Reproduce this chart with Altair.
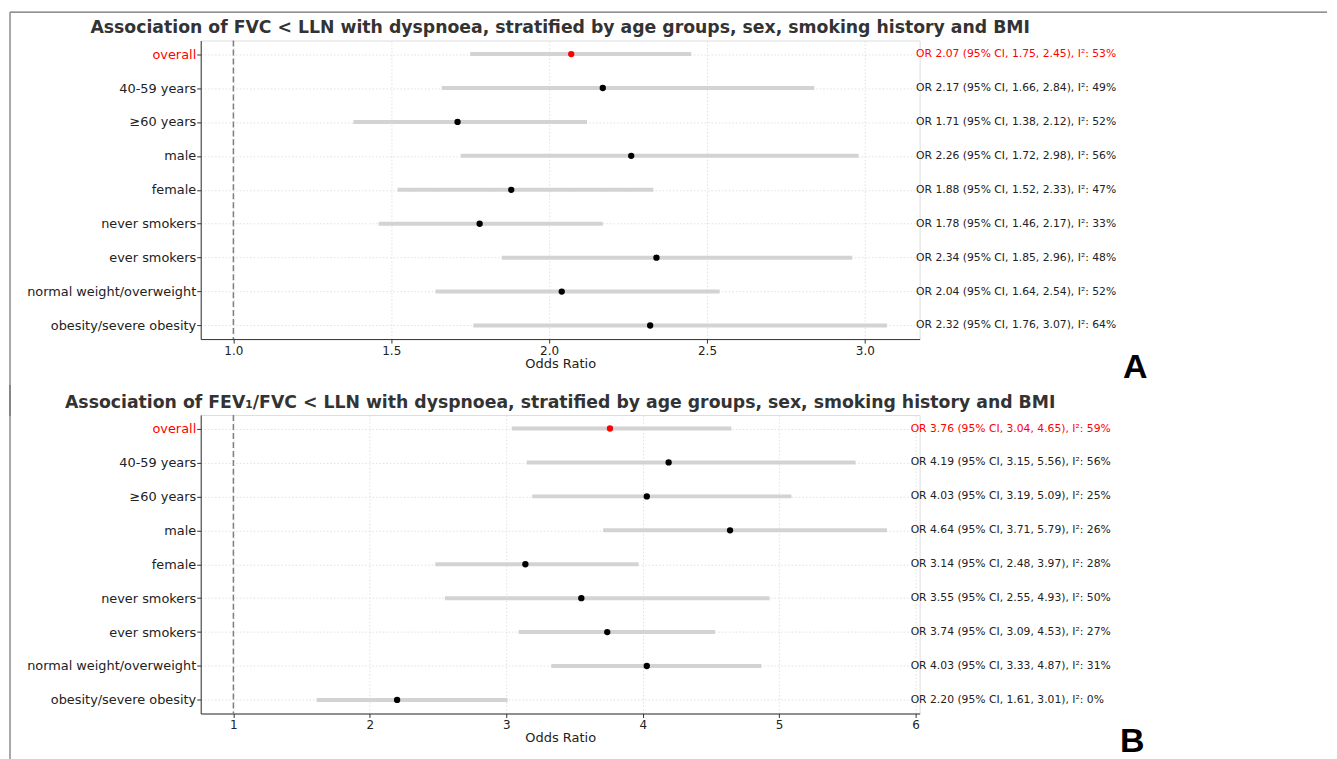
import altair as alt
import pandas as pd

categories = ["overall", "40-59 years", "\u226560 years", "male", "female",
              "never smokers", "ever smokers", "normal weight/overweight",
              "obesity/severe obesity"]

# Panel A: FVC < LLN
or_a = [2.07, 2.17, 1.71, 2.26, 1.88, 1.78, 2.34, 2.04, 2.32]
lo_a = [1.75, 1.66, 1.38, 1.72, 1.52, 1.46, 1.85, 1.64, 1.76]
hi_a = [2.45, 2.84, 2.12, 2.98, 2.33, 2.17, 2.96, 2.54, 3.07]
i2_a = [53, 49, 52, 56, 47, 33, 48, 52, 64]

# Panel B: FEV1/FVC < LLN
or_b = [3.76, 4.19, 4.03, 4.64, 3.14, 3.55, 3.74, 4.03, 2.20]
lo_b = [3.04, 3.15, 3.19, 3.71, 2.48, 2.55, 3.09, 3.33, 1.61]
hi_b = [4.65, 5.56, 5.09, 5.79, 3.97, 4.93, 4.53, 4.87, 3.01]
i2_b = [59, 56, 25, 26, 28, 50, 27, 31, 0]

title_a = "Association of FVC < LLN with dyspnoea, stratified by age groups, sex, smoking history and BMI"
title_b = "Association of FEV\u2081/FVC < LLN with dyspnoea, stratified by age groups, sex, smoking history and BMI"

ticks_a = [1.0, 1.5, 2.0, 2.5, 3.0]
ticks_b = [1, 2, 3, 4, 5, 6]

W, H = 720, 299
GAP = 76
FONT = "DejaVu Sans"
FRAME = "#6f6f6f"


def make_df(orv, lo, hi, i2):
    df = pd.DataFrame({"cat": categories, "or": orv, "lo": lo, "hi": hi, "i2": i2})
    df["label"] = [f"OR {o:.2f} (95% CI, {l:.2f}, {h:.2f}), I\u00b2: {i}%"
                   for o, l, h, i in zip(orv, lo, hi, i2)]
    df["is_overall"] = df["cat"] == "overall"
    df["text_x"] = max(hi) * 1.03
    return df


def panel(df, title, domain, ticks, fmt, letter, letter_x, frame_top, frame_y1, frame_y2):
    x_scale = alt.Scale(domain=domain, nice=False, zero=False)
    y_enc = alt.Y("cat:N", sort=categories,
                  scale=alt.Scale(type="point", padding=0.4),
                  axis=alt.Axis(title=None, labelFont=FONT, labelFontSize=12.9,
                                labelColor=alt.condition("datum.value == 'overall'",
                                                         alt.value("red"), alt.value("#222222")),
                                tickSize=4, labelPadding=1, domainColor="#333333",
                                tickColor="#333333", grid=True, gridColor="#d9d9d9",
                                gridDash=[1.5, 2], gridWidth=0.8))
    base = alt.Chart(df)
    ci = base.mark_rule(color="#d3d3d3", strokeWidth=4).encode(
        x=alt.X("lo:Q", scale=x_scale,
                axis=alt.Axis(title="Odds Ratio", values=ticks, format=fmt,
                              labelFont=FONT, labelFontSize=12, labelColor="#222222",
                              titleFont=FONT, titleFontSize=13, titleFontWeight="normal",
                              titleColor="#222222", titlePadding=1,
                              tickSize=4, domainColor="#333333", tickColor="#333333",
                              grid=True, gridColor="#d9d9d9", gridDash=[1.5, 2],
                              gridWidth=0.8, labelFlush=False)),
        x2="hi:Q",
        y=y_enc,
    )
    ref = alt.Chart(pd.DataFrame({"ref": [1.0]})).mark_rule(
        color="#808080", strokeWidth=1.5, strokeDash=[6, 3]).encode(
        x=alt.X("ref:Q", scale=x_scale))
    pts = base.mark_circle(size=40, opacity=1).encode(
        x=alt.X("or:Q", scale=x_scale),
        y=alt.Y("cat:N", sort=categories),
        color=alt.condition("datum.is_overall", alt.value("red"), alt.value("black")),
    )
    txt = base.mark_text(align="left", baseline="middle", font=FONT, fontSize=10.8).encode(
        x=alt.X("text_x:Q", scale=x_scale),
        y=alt.Y("cat:N", sort=categories),
        text="label:N",
        color=alt.condition("datum.is_overall", alt.value("red"), alt.value("#222222")),
    )
    one = pd.DataFrame({"t": [letter], "title": [title]})
    let = alt.Chart(one).mark_text(
        font="Liberation Sans", fontSize=34, fontWeight="bold", color="black",
        align="center", baseline="middle").encode(
        text="t:N", x=alt.value(letter_x), y=alt.value(328))
    ttl = alt.Chart(one).mark_text(
        font=FONT, fontSize=17.3, fontWeight="bold", color="#333333",
        align="center", baseline="middle").encode(
        text="title:N", x=alt.value(W / 2), y=alt.value(-12.4))
    layers = []
    if frame_top:
        layers.append(alt.Chart(one).mark_rule(color=FRAME, strokeWidth=1.2).encode(
            x=alt.value(-191), x2=alt.value(1128), y=alt.value(frame_y1)))
    layers.append(alt.Chart(one).mark_rule(color=FRAME, strokeWidth=1.2).encode(
        x=alt.value(-191), y=alt.value(frame_y1), y2=alt.value(frame_y2)))
    layers += [ref, ci, pts, txt, let, ttl]
    return alt.layer(*layers).properties(width=W, height=H)


df_a = make_df(or_a, lo_a, hi_a, i2_a)
df_b = make_df(or_b, lo_b, hi_b, i2_b)

pa = panel(df_a, title_a, [0.8965, 3.1735], ticks_a, ".1f", "A", 936, True, -28.4, H + GAP + 1)
pb = panel(df_b, title_b, [0.7605, 6.0295], ticks_b, "d", "B", 933, False, -30, 345)

chart = alt.vconcat(pa, pb, spacing=GAP, bounds="flush").configure_view(strokeWidth=0).configure(
    background="white", padding={"left": 0, "top": 2, "right": 0, "bottom": 0})

chart.save("out.html", embed_options={"renderer": "svg", "actions": False})
